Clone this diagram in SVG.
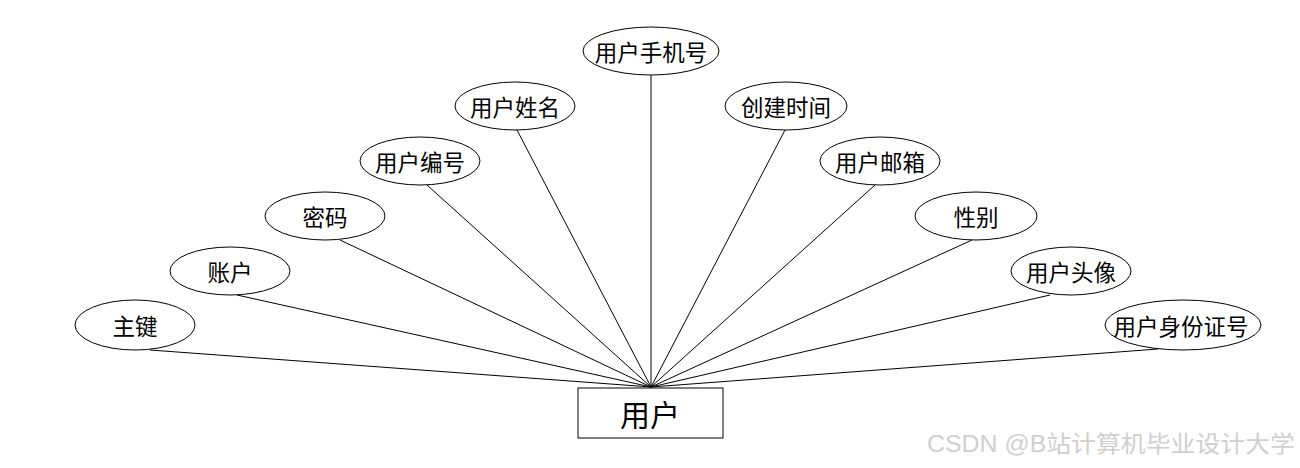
<svg xmlns="http://www.w3.org/2000/svg" width="1300" height="468" viewBox="0 0 1300 468">
<style>
.bg{fill:#ffffff}
.attr ellipse{fill:#ffffff;stroke:#000000;stroke-width:1}
.attr text{font-family:"Noto Sans CJK SC","Liberation Sans",sans-serif;font-size:22.5px;fill:#000000;text-anchor:middle;dominant-baseline:central}
.ent rect{fill:#ffffff;stroke:#000000;stroke-width:1}
.ent text{font-family:"Noto Sans CJK SC","Liberation Sans",sans-serif;font-size:30px;fill:#000000;text-anchor:middle;dominant-baseline:central}
.conn line{stroke:#000000;stroke-width:1}
.wm{font-family:"Liberation Sans","Noto Sans CJK SC",sans-serif;font-size:23px;fill:#cfcfcf}
</style>
<rect class="bg" x="0" y="0" width="1300" height="468"/>
<g id="connectors" class="conn">
<line x1="150" y1="350" x2="651" y2="387"/>
<line x1="237" y1="295" x2="651" y2="387"/>
<line x1="340" y1="240" x2="651" y2="387"/>
<line x1="427" y1="185" x2="651" y2="387"/>
<line x1="517" y1="130" x2="651" y2="387"/>
<line x1="651" y1="75" x2="651" y2="387"/>
<line x1="785" y1="130" x2="651" y2="387"/>
<line x1="875" y1="185" x2="651" y2="387"/>
<line x1="972" y1="240" x2="651" y2="387"/>
<line x1="1050" y1="295" x2="651" y2="387"/>
<line x1="1158" y1="349" x2="651" y2="387"/>
</g>
<g id="node-zhujian" class="attr"><ellipse cx="135" cy="325" rx="60" ry="25"/><text x="135" y="325">主键</text></g>
<g id="node-zhanghu" class="attr"><ellipse cx="230" cy="271" rx="60" ry="24"/><text x="230" y="271">账户</text></g>
<g id="node-mima" class="attr"><ellipse cx="325" cy="216" rx="60" ry="24"/><text x="325" y="216">密码</text></g>
<g id="node-bianhao" class="attr"><ellipse cx="420" cy="161" rx="60" ry="24"/><text x="420" y="161">用户编号</text></g>
<g id="node-xingming" class="attr"><ellipse cx="515" cy="106" rx="60" ry="24"/><text x="515" y="106">用户姓名</text></g>
<g id="node-shouji" class="attr"><ellipse cx="651" cy="51" rx="68" ry="24"/><text x="651" y="51">用户手机号</text></g>
<g id="node-chuangjian" class="attr"><ellipse cx="786" cy="106" rx="61" ry="24"/><text x="786" y="106">创建时间</text></g>
<g id="node-youxiang" class="attr"><ellipse cx="880" cy="161" rx="60" ry="24"/><text x="880" y="161">用户邮箱</text></g>
<g id="node-xingbie" class="attr"><ellipse cx="976" cy="216" rx="61" ry="24"/><text x="976" y="216">性别</text></g>
<g id="node-touxiang" class="attr"><ellipse cx="1071" cy="271" rx="60" ry="24"/><text x="1071" y="271">用户头像</text></g>
<g id="node-shenfen" class="attr"><ellipse cx="1183" cy="325" rx="78" ry="25"/><text x="1181" y="325">用户身份证号</text></g>
<g id="node-yonghu" class="ent"><rect x="578" y="388" width="145" height="50"/><text x="650" y="413">用户</text></g>
<text class="wm" x="927" y="452" textLength="368" lengthAdjust="spacingAndGlyphs">CSDN @B站计算机毕业设计大学</text>
</svg>
